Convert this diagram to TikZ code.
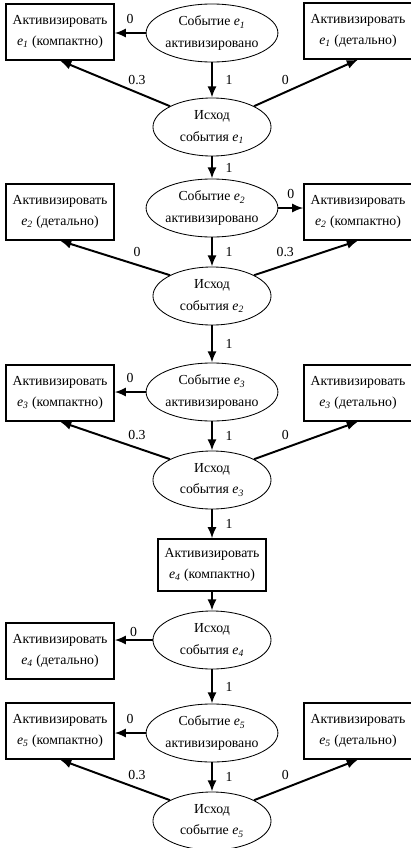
\documentclass[tikz,border=0pt]{standalone}
\usepackage{fontspec}
\setmainfont{Liberation Serif}
\usepackage{tikz}
\usetikzlibrary{arrows.meta}
\usetikzlibrary{shapes.geometric}
\newcommand{\evt}[1]{\textit{e}\textsubscript{\textit{#1}}}

\begin{document}
\begin{tikzpicture}[x=0.025cm,y=-0.025cm,>={Latex[length=8pt,width=6.5pt]},
		every node/.style={font=\fontsize{9.8}{15}\selectfont},
		ev/.style={ellipse,draw=black,line width=0.6pt,minimum width=2.95cm,minimum height=1.45cm,inner sep=0pt,align=center},
		act/.style={rectangle,draw=black,line width=0.9pt,minimum width=2.7cm,minimum height=1.4cm,inner sep=2pt,align=center},
		arr/.style={->,line width=1.4pt},
		lbl/.style={inner sep=1pt}]
			\useasboundingbox (0,0) rectangle (411,848);
			\node[ev] (E1) at (212,33) {Событие \evt{1}\\активизировано};
			\node[act] (L1) at (60,32) {Активизировать\\\evt{1} (компактно)};
			\node[act] (R1) at (358,31) {Активизировать\\\evt{1} (детально)};
			\node[ev] (O1) at (212,127) {Исход\\события \evt{1}};
			\node[ev] (E2) at (212,208) {Событие \evt{2}\\активизировано};
			\node[act] (L2) at (60,212) {Активизировать\\\evt{2} (детально)};
			\node[act] (R2) at (358,212) {Активизировать\\\evt{2} (компактно)};
			\node[ev] (O2) at (212,296) {Исход\\события \evt{2}};
			\node[ev] (E3) at (212,392) {Событие \evt{3}\\активизировано};
			\node[act] (L3) at (60,393) {Активизировать\\\evt{3} (компактно)};
			\node[act] (R3) at (358,393) {Активизировать\\\evt{3} (детально)};
			\node[ev] (O3) at (212,480) {Исход\\события \evt{3}};
			\node[act,minimum height=1.3cm] (A4) at (212,565) {Активизировать\\\evt{4} (компактно)};
			\node[ev] (O4) at (212,640) {Исход\\события \evt{4}};
			\node[act] (L4) at (60,651) {Активизировать\\\evt{4} (детально)};
			\node[ev] (E5) at (212,733) {Событие \evt{5}\\активизировано};
			\node[act] (L5) at (60,731) {Активизировать\\\evt{5} (компактно)};
			\node[act] (R5) at (358,731) {Активизировать\\\evt{5} (детально)};
			\node[ev] (O5) at (212,821) {Исход\\событие \evt{5}};
			\draw[arr] (E1.west) -- (E1.west -| L1.east) node[lbl,midway,above=5pt] (p1) {0};
			\draw[arr] (E1) -- (O1) node[lbl,midway,right=8pt] (p2) {1};
			\draw[arr] (O1.north west) -- (L1.south) node[lbl,pos=0.3,above=4pt] (p3) {0.3};
			\draw[arr] (O1.north east) -- (R1.south) node[lbl,pos=0.3,above=4pt] (p4) {0};
			\draw[arr] (O1) -- (E2) node[lbl,midway,right=8pt] (p5) {1};
			\draw[arr] (E2.east) -- (E2.east -| R2.west) node[lbl,midway,above=5pt] (p6) {0};
			\draw[arr] (E2) -- (O2) node[lbl,midway,right=8pt] (p7) {1};
			\draw[arr] (O2.north west) -- (L2.south) node[lbl,pos=0.3,above=4pt] (p8) {0};
			\draw[arr] (O2.north east) -- (R2.south) node[lbl,pos=0.3,above=4pt] (p9) {0.3};
			\draw[arr] (O2) -- (E3) node[lbl,midway,right=8pt] (p10) {1};
			\draw[arr] (E3.west) -- (E3.west -| L3.east) node[lbl,midway,above=5pt] (p11) {0};
			\draw[arr] (E3) -- (O3) node[lbl,midway,right=8pt] (p12) {1};
			\draw[arr] (O3.north west) -- (L3.south) node[lbl,pos=0.3,above=4pt] (p13) {0.3};
			\draw[arr] (O3.north east) -- (R3.south) node[lbl,pos=0.3,above=4pt] (p14) {0};
			\draw[arr] (O3) -- (A4) node[lbl,midway,right=8pt] (p15) {1};
			\draw[arr] (A4) -- (O4);
			\draw[arr] (O4.west) -- (O4.west -| L4.east) node[lbl,midway,above=1pt] (p16) {0};
			\draw[arr] (O4) -- (E5) node[lbl,midway,right=8pt] (p17) {1};
			\draw[arr] (E5.west) -- (E5.west -| L5.east) node[lbl,midway,above=5pt] (p18) {0};
			\draw[arr] (E5) -- (O5) node[lbl,midway,right=8pt] (p19) {1};
			\draw[arr] (O5.north west) -- (L5.south) node[lbl,pos=0.3,above=4pt] (p20) {0.3};
			\draw[arr] (O5.north east) -- (R5.south) node[lbl,pos=0.3,above=4pt] (p21) {0};
		\end{tikzpicture}
\end{document}
